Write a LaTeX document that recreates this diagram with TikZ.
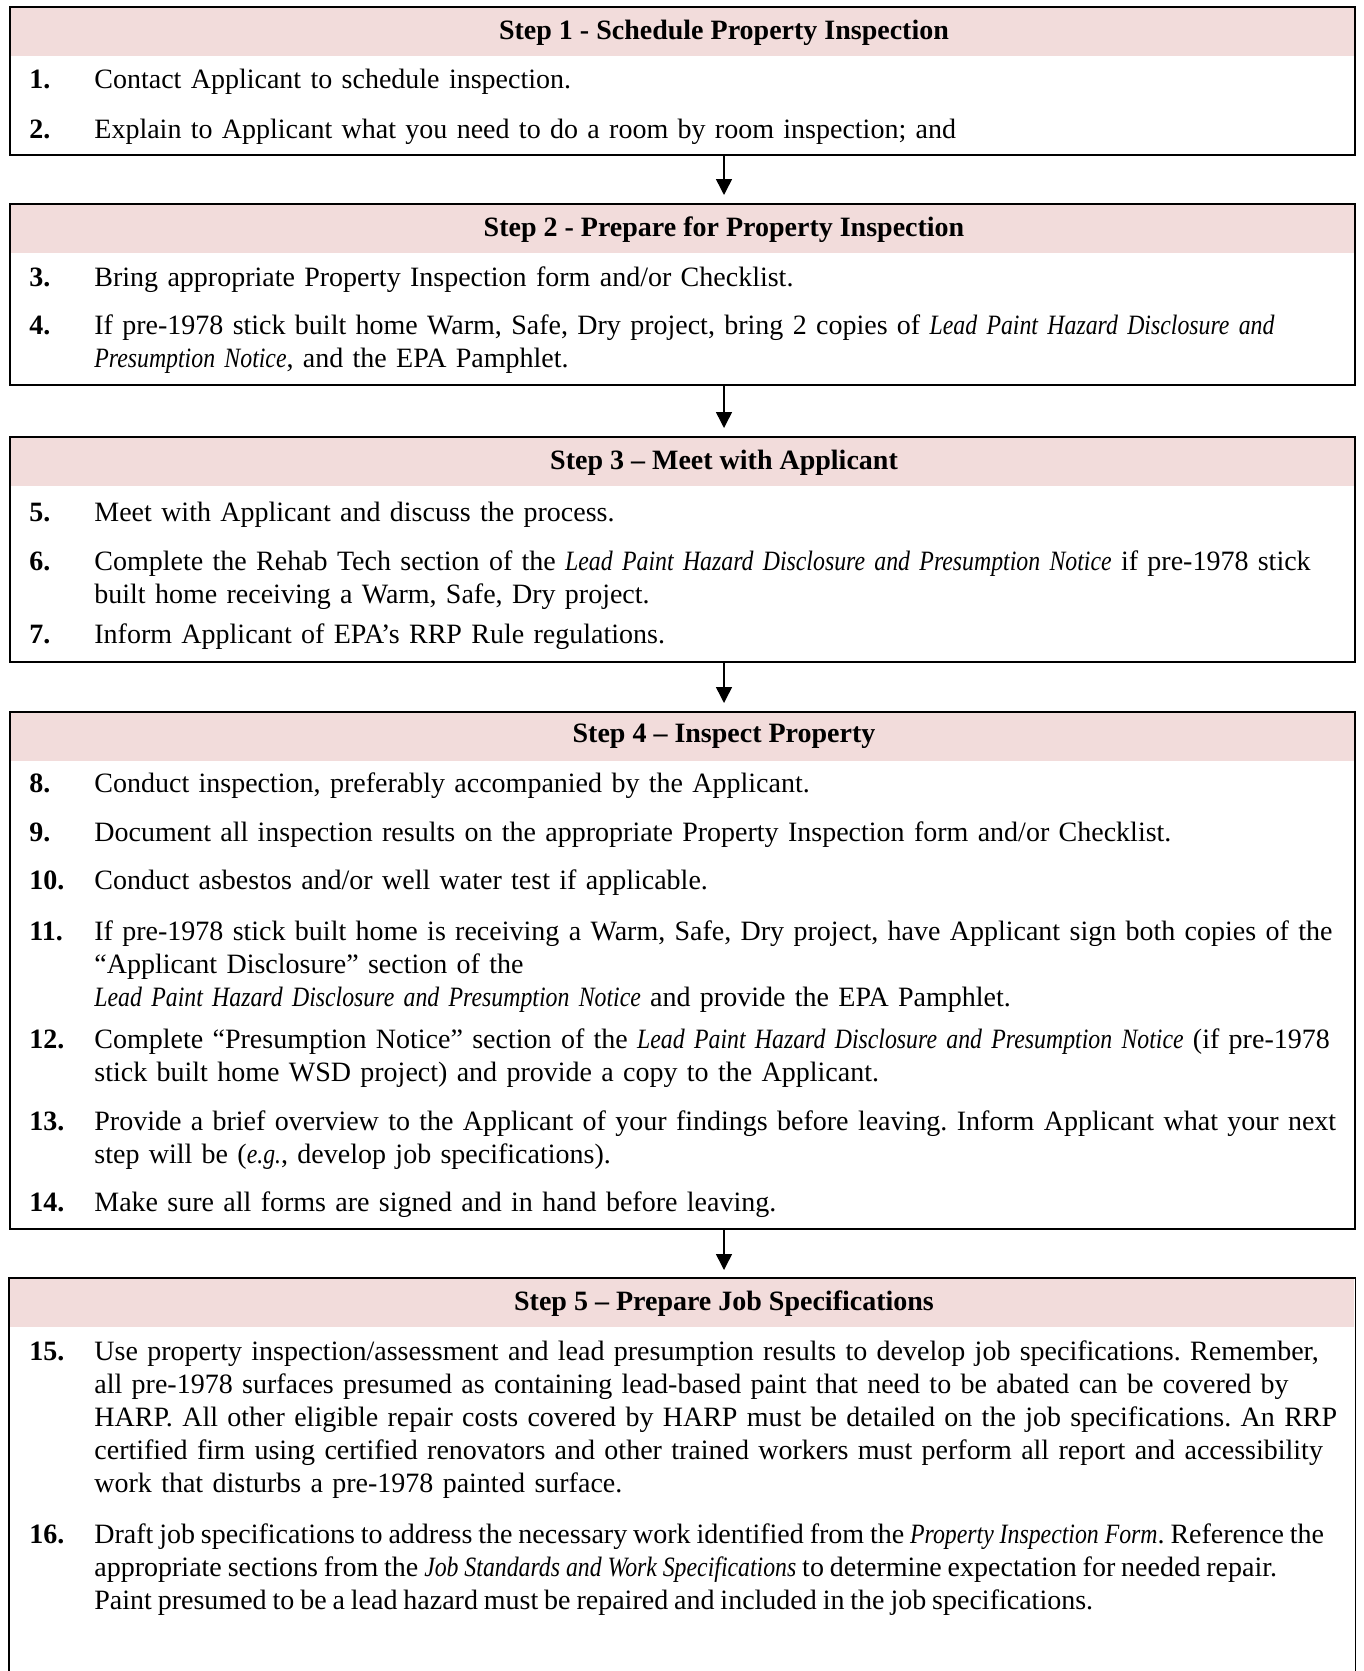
\documentclass[tikz,border=0pt]{standalone}
\usepackage{fontspec}
\setmainfont{Liberation Serif}[ItalicFeatures={FakeStretch=0.85}]
\usepackage{xcolor}
\usetikzlibrary{arrows.meta,calc}
\definecolor{headpink}{RGB}{242,220,219}
\newcommand{\bodyfont}{\fontsize{14pt}{16.6pt}\selectfont\frenchspacing}
\tikzset{
  stepframe/.style={draw,line width=0.75pt,anchor=north west,minimum width=672.5pt,inner sep=0pt},
  headband/.style={fill=headpink},
  headtext/.style={anchor=base,inner sep=0pt,font=\bodyfont\bfseries},
  num/.style={anchor=base west,inner sep=0pt,font=\bodyfont\bfseries},
  item/.style={anchor=base west,inner sep=0pt,text width=660pt,align=left,font=\bodyfont},
  flow/.style={-{Triangle[length=8pt,width=8pt]},line width=0.75pt,shorten >=4pt}
}

\begin{document}
\begin{tikzpicture}[x=0.5pt,y=-0.5pt]
                \useasboundingbox (0,0) rectangle (1364,1671);
                \fill [headband] (9,6) rectangle (1354,56);
                \node [stepframe,minimum height=74pt] (box1) at (9,6) {};
                \node [headtext] (head1) at (724,39) {Step 1 - Schedule Property Inspection};
                \node [num] (n1) at (29,88) {1.};
                \node [item] (t1) at (94,88) {Contact Applicant to schedule inspection.};
                \node [num] (n2) at (29,138) {2.};
                \node [item] (t2) at (94,138) {Explain to Applicant what you need to do a room by room inspection; and};

                \fill [headband] (9,203) rectangle (1354,253);
                \node [stepframe,minimum height=90.5pt] (box2) at (9,203) {};
                \node [headtext] (head2) at (724,236) {Step 2 - Prepare for Property Inspection};
                \node [num] (n3) at (29,286) {3.};
                \node [item] (t3) at (94,286) {Bring appropriate Property Inspection form and/or Checklist.};
                \node [num] (n4) at (29,334) {4.};
                \node [item] (t4) at (94,334) {If pre-1978 stick built home Warm, Safe, Dry project, bring 2 copies of \emph{Lead Paint Hazard Disclosure and}\\
                    \emph{Presumption Notice}, and the EPA Pamphlet.};

                \fill [headband] (9,436) rectangle (1354,486);
                \node [stepframe,minimum height=112.5pt] (box3) at (9,436) {};
                \node [headtext] (head3) at (724,469) {Step 3 – Meet with Applicant};
                \node [num] (n5) at (29,521) {5.};
                \node [item] (t5) at (94,521) {Meet with Applicant and discuss the process.};
                \node [num] (n6) at (29,570) {6.};
                \node [item] (t6) at (94,570) {Complete the Rehab Tech section of the \emph{Lead Paint Hazard Disclosure and Presumption Notice} if pre-1978 stick\\
                    built home receiving a Warm, Safe, Dry project.};
                \node [num] (n7) at (29,643) {7.};
                \node [item] (t7) at (94,643) {Inform Applicant of EPA’s RRP Rule regulations.};

                \fill [headband] (9,711) rectangle (1354,761);
                \node [stepframe,minimum height=258.5pt] (box4) at (9,711) {};
                \node [headtext] (head4) at (724,742) {Step 4 – Inspect Property};
                \node [num] (n8) at (29,792) {8.};
                \node [item] (t8) at (94,792) {Conduct inspection, preferably accompanied by the Applicant.};
                \node [num] (n9) at (29,841) {9.};
                \node [item] (t9) at (94,841) {Document all inspection results on the appropriate Property Inspection form and/or Checklist.};
                \node [num] (n10) at (29,889) {10.};
                \node [item] (t10) at (94,889) {Conduct asbestos and/or well water test if applicable.};
                \node [num] (n11) at (29,940) {11.};
                \node [item] (t11) at (94,940) {If pre-1978 stick built home is receiving a Warm, Safe, Dry project, have Applicant sign both copies of the\\
                    “Applicant Disclosure” section of the\\
                    \emph{Lead Paint Hazard Disclosure and Presumption Notice} and provide the EPA Pamphlet.};
                \node [num] (n12) at (29,1048) {12.};
                \node [item] (t12) at (94,1048) {Complete “Presumption Notice” section of the \emph{Lead Paint Hazard Disclosure and Presumption Notice} (if pre-1978\\
                    stick built home WSD project) and provide a copy to the Applicant.};
                \node [num] (n13) at (29,1130) {13.};
                \node [item] (t13) at (94,1130) {Provide a brief overview to the Applicant of your findings before leaving. Inform Applicant what your next\\
                    step will be (\emph{e.g.}, develop job specifications).};
                \node [num] (n14) at (29,1211) {14.};
                \node [item] (t14) at (94,1211) {Make sure all forms are signed and in hand before leaving.};

                \fill [headband] (9,1278) rectangle (1354,1327);
                \node [stepframe,draw=none,minimum height=196.5pt] (box5) at (9,1278) {};
                \draw [line width=0.75pt] (box5.south west) -- (box5.north west) -- (box5.north east) -- (box5.south east);
                \node [headtext] (head5) at (724,1310) {Step 5 – Prepare Job Specifications};
                \node [num] (n15) at (29,1360) {15.};
                \node [item] (t15) at (94,1360) {Use property inspection/assessment and lead presumption results to develop job specifications. Remember,\\
                    all pre-1978 surfaces presumed as containing lead-based paint that need to be abated can be covered by\\
                    HARP. All other eligible repair costs covered by HARP must be detailed on the job specifications. An RRP\\
                    certified firm using certified renovators and other trained workers must perform all report and accessibility\\
                    work that disturbs a pre-1978 painted surface.};
                \node [num] (n16) at (29,1543) {16.};
                \node [item] (t16) at (94,1543) {\spaceskip=0.84\fontdimen2\font
                    Draft job specifications to address the necessary work identified from the \emph{Property Inspection Form}. Reference the\\
                    appropriate sections from the \emph{Job Standards and Work Specifications} to determine expectation for needed repair.\\
                    Paint presumed to be a lead hazard must be repaired and included in the job specifications.};

                \draw [flow] (box1.south -| head2) -- (box2.north -| head2);
                \draw [flow] (box2.south -| head3) -- (box3.north -| head3);
                \draw [flow] (box3.south -| head4) -- (box4.north -| head4);
                \draw [flow] (box4.south -| head5) -- (box5.north -| head5);
\end{tikzpicture}
\end{document}
